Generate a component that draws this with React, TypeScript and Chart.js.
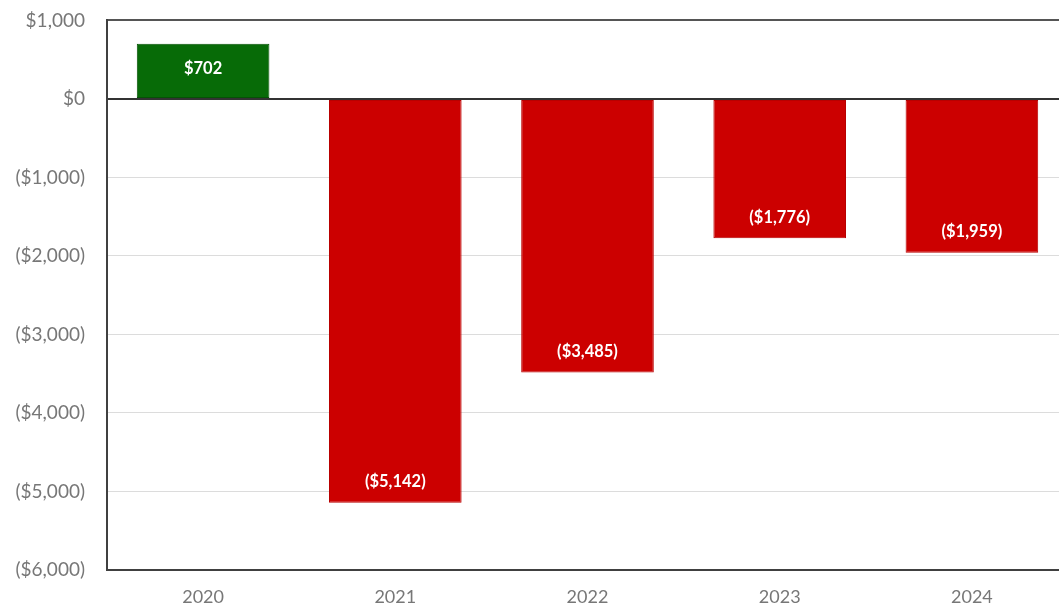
import React, { useEffect, useRef } from "react";
import { Chart, registerables } from "chart.js";

Chart.register(...registerables);

const years = ["2020", "2021", "2022", "2023", "2024"];
const values = [702, -5142, -3485, -1776, -1959];
const yMin = -6000;
const yMax = 1000;
const yStep = 1000;

const fmt = (v: number) => {
  const s = "$" + Math.abs(v).toLocaleString("en-US");
  return v < 0 ? "(" + s + ")" : s;
};

const labelPlugin = {
  id: "barLabels",
  afterDatasetsDraw(chart: any) {
    const ctx = chart.ctx;
    const meta = chart.getDatasetMeta(0);
    ctx.save();
    ctx.font = "bold 16.5px Lato, 'Open Sans', sans-serif";
    ctx.fillStyle = "#ffffff";
    ctx.textAlign = "center";
    ctx.textBaseline = "middle";
    meta.data.forEach((el: any, i: number) => {
      const v = values[i];
      const y = v >= 0 ? el.y + 25 : el.y - 21;
      ctx.fillText(fmt(v), el.x, y);
    });
    ctx.restore();
  },
};

export default function App() {
  const ref = useRef<HTMLCanvasElement | null>(null);
  useEffect(() => {
    if (!ref.current) return;
    const chart = new Chart(ref.current, {
      type: "bar",
      data: {
        labels: years,
        datasets: [
          {
            data: values,
            backgroundColor: values.map((v) => (v >= 0 ? "#076b07" : "#cc0000")),
            borderColor: values.map((v) => (v >= 0 ? "#055205" : "#b80000")),
            borderWidth: 1,
            borderSkipped: false,
            categoryPercentage: 1,
            barPercentage: 0.69,
          },
        ],
      },
      options: {
        responsive: false,
        animation: false,
        layout: { padding: { top: 8, right: 4, left: 0, bottom: 0 } },
        plugins: { legend: { display: false }, tooltip: { enabled: false } },
        scales: {
          x: {
            grid: { display: false, drawTicks: false },
            border: { display: true, color: "#404040", width: 2 },
            ticks: {
              color: "#777777",
              font: { family: "Lato, 'Open Sans', sans-serif", size: 18 },
              padding: 16,
            },
            afterFit: (s: any) => {
              s.height = 36;
            },
          },
          y: {
            min: yMin,
            max: yMax,
            ticks: {
              stepSize: yStep,
              color: "#777777",
              font: { family: "Lato, 'Open Sans', sans-serif", size: 19 },
              padding: 22,
              callback: (v: any) => fmt(Number(v)),
            },
            grid: {
              drawTicks: false,
              color: (c: any) =>
                c.tick && c.tick.value === 0
                  ? "#333333"
                  : c.tick && c.tick.value === yMax
                  ? "#555555"
                  : "#dcdcdc",
              lineWidth: (c: any) =>
                c.tick && (c.tick.value === 0 || c.tick.value === yMax) ? 2 : 1,
            },
            border: { display: true, color: "#404040", width: 2 },
            afterFit: (s: any) => {
              s.width = 107;
            },
          },
        },
      },
      plugins: [labelPlugin],
    });
    return () => chart.destroy();
  }, []);
  return (
    <div
      style={{
        position: "fixed",
        left: 0,
        top: 0,
        width: 1059,
        height: 606,
        overflow: "hidden",
        background: "#ffffff",
      }}
    >
      <canvas
        ref={ref}
        width={1072}
        height={619}
        style={{ display: "block", marginTop: -13 }}
      />
    </div>
  );
}
